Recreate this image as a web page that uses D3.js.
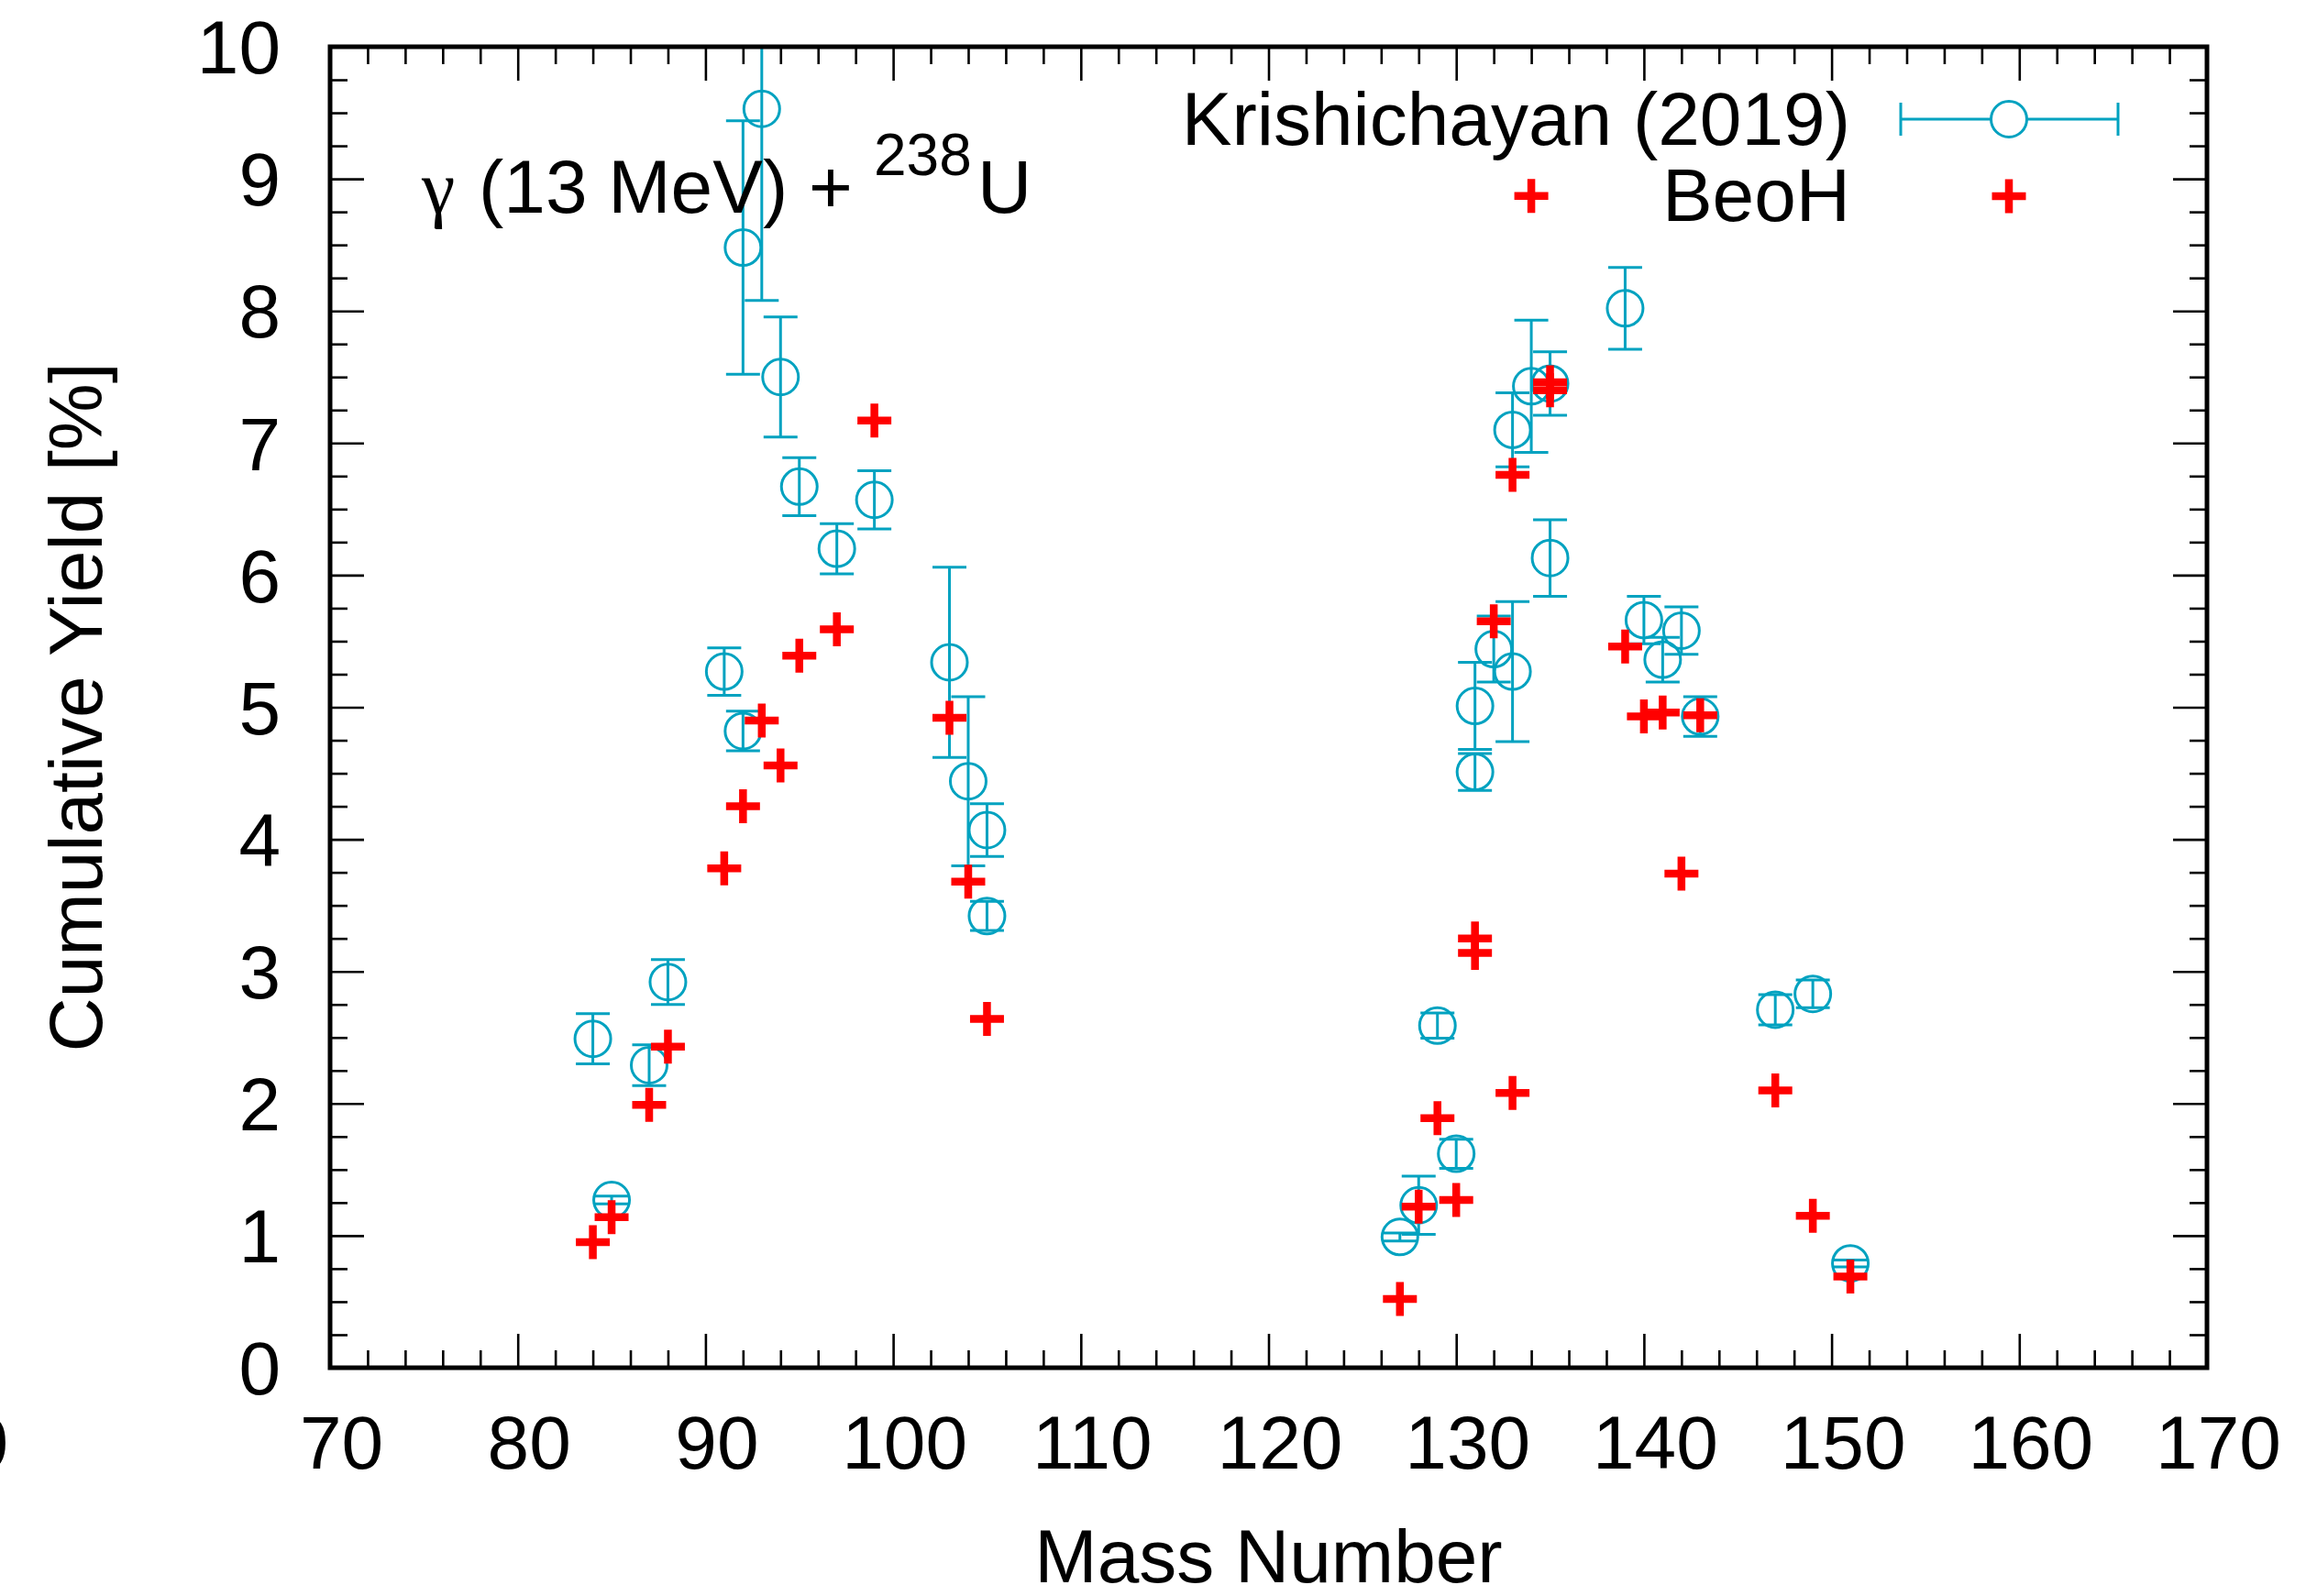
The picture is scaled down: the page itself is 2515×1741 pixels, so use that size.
<!DOCTYPE html>
<html>
<head>
<meta charset="utf-8">
<script src="https://cdn.jsdelivr.net/npm/d3@7"></script>
<style>
  body { margin: 0; background: #fff; }
  text { font-family: "Liberation Sans", Arial, Helvetica, sans-serif; }
</style>
</head>
<body>
<div id="chart"></div>
<script>
// Cumulative fission yields, gamma (13 MeV) + 238U

// Krishichayan (2019) data: mass number, yield [%], uncertainty
const massK  = [84, 85, 87, 88, 91, 92, 92, 93, 94, 95, 97, 99, 103, 104, 105, 105,
                127, 128, 129, 130, 131, 131, 132, 133, 133, 134, 135, 135, 139, 140, 141, 142, 143, 147, 149, 151];
const yieldK = [2.49, 1.27, 2.29, 2.92, 5.27, 4.82, 8.48, 9.53, 7.50, 6.67, 6.20, 6.57, 5.34, 4.44, 4.07, 3.42,
                0.99, 1.23, 2.59, 1.62, 5.01, 4.51, 5.44, 5.27, 7.10, 7.43, 7.45, 6.13, 8.02, 5.66, 5.36, 5.58, 4.93, 2.71, 2.83, 0.79];
const errK   = [0.19, 0.03, 0.155, 0.17, 0.18, 0.15, 0.96, 1.45, 0.455, 0.22, 0.19, 0.22, 0.72, 0.64, 0.20, 0.11,
                0.03, 0.22, 0.095, 0.11, 0.33, 0.14, 0.25, 0.53, 0.28, 0.50, 0.24, 0.29, 0.31, 0.18, 0.17, 0.18, 0.15, 0.115, 0.105, 0.026];

// BeoH calculation
const massB  = [84, 85, 87, 88, 91, 92, 93, 94, 95, 97, 99, 103, 104, 105,
                127, 128, 129, 130, 131, 131, 132, 133, 133, 134, 135, 135, 139, 140, 141, 142, 143, 147, 149, 151];
const yieldB = [0.95, 1.14, 1.99, 2.43, 3.78, 4.25, 4.90, 4.56, 5.39, 5.59, 7.17, 4.92, 3.68, 2.64,
                0.52, 1.22, 1.89, 1.27, 3.25, 3.14, 5.65, 6.76, 2.08, 8.87, 7.46, 7.40, 5.46, 4.93, 4.96, 3.74, 4.94, 2.10, 1.15, 0.69];

// Axis ticks
const xTicks = [70, 80, 90, 100, 110, 120, 130, 140, 150, 160, 170];
const yTicks = [0, 1, 2, 3, 4, 5, 6, 7, 8, 9, 10];
const seriesNames = ["Krishichayan (2019)", "BeoH"];

const W = 2515, H = 1741;
const margin = { top: 51, right: 108, bottom: 249, left: 360 };
const width = W - margin.left - margin.right;
const height = H - margin.top - margin.bottom;

const cyan = "#00a2c0";
const red = "#ff0000";
const fontSize = 82;

const svg = d3.select("#chart").append("svg")
    .attr("width", W)
    .attr("height", H);

svg.append("defs").append("clipPath")
    .attr("id", "plotClip")
    .append("rect")
    .attr("width", width)
    .attr("height", height);

const g = svg.append("g")
    .attr("transform", `translate(${margin.left},${margin.top})`);

// Scales
const x = d3.scaleLinear().domain([70, 170]).range([0, width]);
const y = d3.scaleLinear().domain([0, 10]).range([height, 0]);

const xMinor = d3.range(70, 171, 2).filter(v => v % 10 !== 0);
const yMinor = d3.range(0, 10.01, 0.25).filter(v => Math.abs(v - Math.round(v)) > 1e-6);

// Major and minor ticks on all four sides, pointing inward
function styleAxis(sel) {
    sel.select(".domain").remove();
    sel.selectAll(".tick line").attr("stroke", "#000").attr("stroke-width", 2.6);
    sel.selectAll("text")
        .attr("fill", "#000")
        .style("font-size", fontSize + "px")
        .style("font-family", '"Liberation Sans", Arial, sans-serif');
}

g.append("g").attr("transform", `translate(0,${height})`)
    .call(d3.axisBottom(x).tickValues(xTicks).tickSizeInner(-37).tickSizeOuter(0).tickPadding(52).tickFormat(d3.format("d")))
    .call(styleAxis)
    .selectAll("text").attr("dx", 12);
g.append("g").attr("transform", `translate(0,${height})`)
    .call(d3.axisBottom(x).tickValues(xMinor).tickSizeInner(-19).tickSizeOuter(0).tickFormat(""))
    .call(styleAxis);
g.append("g")
    .call(d3.axisTop(x).tickValues(xTicks).tickSizeInner(-37).tickSizeOuter(0).tickFormat(""))
    .call(styleAxis);
g.append("g")
    .call(d3.axisTop(x).tickValues(xMinor).tickSizeInner(-19).tickSizeOuter(0).tickFormat(""))
    .call(styleAxis);

g.append("g")
    .call(d3.axisLeft(y).tickValues(yTicks).tickSizeInner(-37).tickSizeOuter(0).tickPadding(54).tickFormat(d3.format("d")))
    .call(styleAxis)
    .selectAll("text").attr("dy", "0.35em");
g.append("g")
    .call(d3.axisLeft(y).tickValues(yMinor).tickSizeInner(-19).tickSizeOuter(0).tickFormat(""))
    .call(styleAxis);
g.append("g").attr("transform", `translate(${width},0)`)
    .call(d3.axisRight(y).tickValues(yTicks).tickSizeInner(-37).tickSizeOuter(0).tickFormat(""))
    .call(styleAxis);
g.append("g").attr("transform", `translate(${width},0)`)
    .call(d3.axisRight(y).tickValues(yMinor).tickSizeInner(-19).tickSizeOuter(0).tickFormat(""))
    .call(styleAxis);

// stray clipped label at the far left edge (as in the original picture)
svg.append("text")
    .attr("x", 9)
    .attr("y", 1602)
    .attr("text-anchor", "end")
    .attr("font-size", fontSize)
    .text("0");

// Axis titles
svg.append("text")
    .attr("x", margin.left + width / 2)
    .attr("y", 1726)
    .attr("text-anchor", "middle")
    .attr("font-size", fontSize)
    .text("Mass Number");

svg.append("text")
    .attr("transform", `translate(111,${margin.top + height / 2}) rotate(-90)`)
    .attr("text-anchor", "middle")
    .attr("font-size", fontSize)
    .text("Cumulative Yield [%]");

// Reaction label
const label = svg.append("text").attr("font-size", fontSize);
label.append("tspan").attr("x", 460).attr("y", 232)
    .style("font-family", '"Liberation Serif", "DejaVu Serif", serif').text("γ");
label.append("tspan").attr("x", 522).attr("y", 232).text("(13 MeV) +");
label.append("tspan").attr("x", 953).attr("y", 191).attr("font-size", 64).text("238");
label.append("tspan").attr("x", 1066).attr("y", 232).text("U");

// Data layer
const plot = g.append("g").attr("clip-path", "url(#plotClip)");

const kData = massK.map((m, i) => ({ m, v: yieldK[i], e: errK[i] }));
const bData = massB.map((m, i) => ({ m, v: yieldB[i] }));

const cap = 18.5;
const kGroup = plot.append("g")
    .attr("stroke", cyan)
    .attr("stroke-width", 3)
    .attr("fill", "none");

kGroup.selectAll(".ebar")
    .data(kData)
    .join("path")
    .attr("class", "ebar")
    .attr("d", d => {
        const cx = x(d.m), y1 = y(d.v + d.e), y2 = y(d.v - d.e);
        return `M${cx},${y1}V${y2}M${cx - cap},${y1}H${cx + cap}M${cx - cap},${y2}H${cx + cap}`;
    });

kGroup.selectAll(".pt")
    .data(kData)
    .join("circle")
    .attr("class", "pt")
    .attr("cx", d => x(d.m))
    .attr("cy", d => y(d.v))
    .attr("r", 19.5);

const arm = 18.5;
plot.append("g")
    .attr("stroke", red)
    .attr("stroke-width", 8.5)
    .selectAll("path")
    .data(bData)
    .join("path")
    .attr("d", d => {
        const cx = x(d.m), cy = y(d.v);
        return `M${cx - arm},${cy}H${cx + arm}M${cx},${cy - arm}V${cy + arm}`;
    });

// Legend
const legendX = 2018 - margin.left;
const sampleX = 2191 - margin.left;
const legend = g.append("g");

legend.append("text")
    .attr("x", legendX).attr("y", 158 - margin.top)
    .attr("text-anchor", "end").attr("font-size", fontSize)
    .text(seriesNames[0]);
legend.append("text")
    .attr("x", legendX).attr("y", 241 - margin.top)
    .attr("text-anchor", "end").attr("font-size", fontSize)
    .text(seriesNames[1]);

const ly1 = 130 - margin.top;
legend.append("path")
    .attr("d", `M${sampleX - 118},${ly1}H${sampleX + 119}M${sampleX - 118},${ly1 - 18}V${ly1 + 18}M${sampleX + 119},${ly1 - 18}V${ly1 + 18}`)
    .attr("stroke", cyan).attr("stroke-width", 3).attr("fill", "none");
legend.append("circle")
    .attr("cx", sampleX).attr("cy", ly1).attr("r", 19.5)
    .attr("stroke", cyan).attr("stroke-width", 3).attr("fill", "#fff");

const ly2 = 214 - margin.top;
legend.append("path")
    .attr("d", `M${sampleX - arm},${ly2}H${sampleX + arm}M${sampleX},${ly2 - arm}V${ly2 + arm}`)
    .attr("stroke", red).attr("stroke-width", 8.5);

// Frame
g.append("rect")
    .attr("width", width)
    .attr("height", height)
    .attr("fill", "none")
    .attr("stroke", "#000")
    .attr("stroke-width", 5);
</script>
</body>
</html>
